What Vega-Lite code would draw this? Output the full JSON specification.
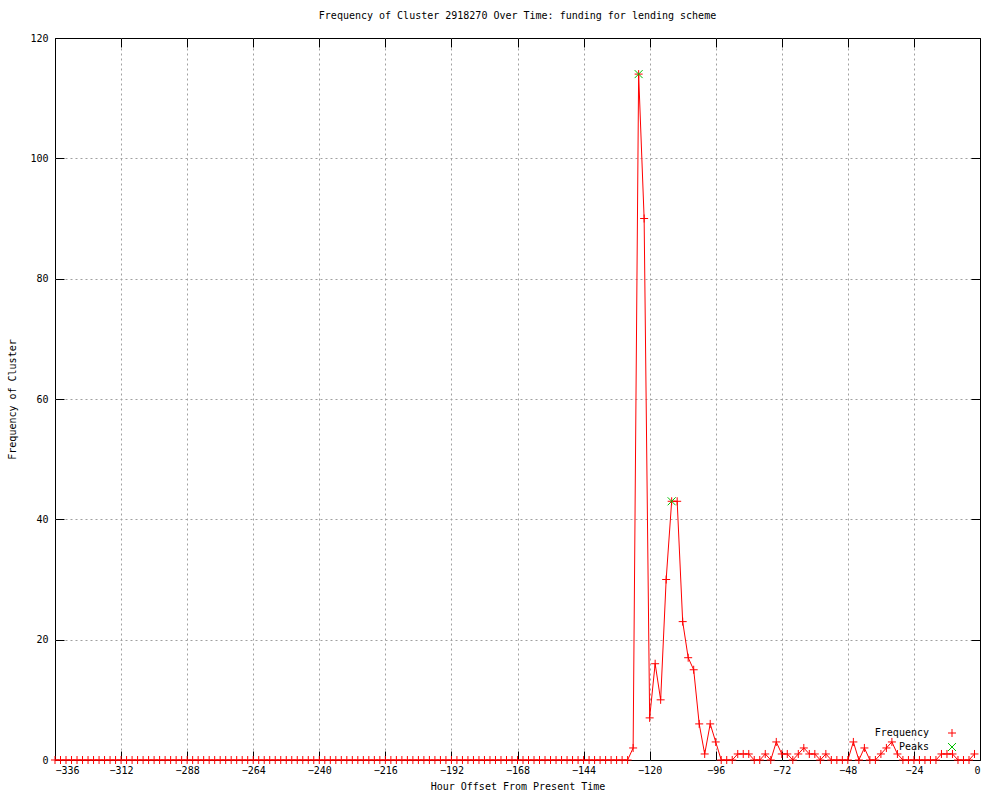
{
  "$schema": "https://vega.github.io/schema/vega-lite/v6.json",
  "width": 925,
  "height": 722,
  "autosize": {"type": "none"},
  "padding": {"left": 55, "top": 38, "right": 20, "bottom": 40},
  "background": "white",
  "title": {"text": "Frequency of Cluster 2918270 Over Time: funding for lending scheme", "font": "DejaVu Sans Mono", "fontSize": 10, "fontWeight": "normal", "color": "black", "anchor": "middle", "offset": 12},
  "config": {
    "view": {"stroke": "black", "strokeWidth": 1},
    "axis": {"labelFont": "DejaVu Sans Mono", "labelFontSize": 10, "labelColor": "black", "titleFont": "DejaVu Sans Mono", "titleFontSize": 10, "titleFontWeight": "normal", "titleColor": "black", "domain": false, "tickColor": "black", "gridColor": "#a0a0a0", "gridDash": [2, 3], "gridWidth": 1},
    "legend": {"labelFont": "DejaVu Sans Mono", "labelFontSize": 10, "labelColor": "black"}
  },
  "datasets": {
    "freq": [
      {"h": -336, "f": 0}, {"h": -334, "f": 0}, {"h": -332, "f": 0}, {"h": -330, "f": 0}, {"h": -328, "f": 0}, {"h": -326, "f": 0}, {"h": -324, "f": 0}, {"h": -322, "f": 0}, {"h": -320, "f": 0}, {"h": -318, "f": 0}, {"h": -316, "f": 0}, {"h": -314, "f": 0},
      {"h": -312, "f": 0}, {"h": -310, "f": 0}, {"h": -308, "f": 0}, {"h": -306, "f": 0}, {"h": -304, "f": 0}, {"h": -302, "f": 0}, {"h": -300, "f": 0}, {"h": -298, "f": 0}, {"h": -296, "f": 0}, {"h": -294, "f": 0}, {"h": -292, "f": 0}, {"h": -290, "f": 0},
      {"h": -288, "f": 0}, {"h": -286, "f": 0}, {"h": -284, "f": 0}, {"h": -282, "f": 0}, {"h": -280, "f": 0}, {"h": -278, "f": 0}, {"h": -276, "f": 0}, {"h": -274, "f": 0}, {"h": -272, "f": 0}, {"h": -270, "f": 0}, {"h": -268, "f": 0}, {"h": -266, "f": 0},
      {"h": -264, "f": 0}, {"h": -262, "f": 0}, {"h": -260, "f": 0}, {"h": -258, "f": 0}, {"h": -256, "f": 0}, {"h": -254, "f": 0}, {"h": -252, "f": 0}, {"h": -250, "f": 0}, {"h": -248, "f": 0}, {"h": -246, "f": 0}, {"h": -244, "f": 0}, {"h": -242, "f": 0},
      {"h": -240, "f": 0}, {"h": -238, "f": 0}, {"h": -236, "f": 0}, {"h": -234, "f": 0}, {"h": -232, "f": 0}, {"h": -230, "f": 0}, {"h": -228, "f": 0}, {"h": -226, "f": 0}, {"h": -224, "f": 0}, {"h": -222, "f": 0}, {"h": -220, "f": 0}, {"h": -218, "f": 0},
      {"h": -216, "f": 0}, {"h": -214, "f": 0}, {"h": -212, "f": 0}, {"h": -210, "f": 0}, {"h": -208, "f": 0}, {"h": -206, "f": 0}, {"h": -204, "f": 0}, {"h": -202, "f": 0}, {"h": -200, "f": 0}, {"h": -198, "f": 0}, {"h": -196, "f": 0}, {"h": -194, "f": 0},
      {"h": -192, "f": 0}, {"h": -190, "f": 0}, {"h": -188, "f": 0}, {"h": -186, "f": 0}, {"h": -184, "f": 0}, {"h": -182, "f": 0}, {"h": -180, "f": 0}, {"h": -178, "f": 0}, {"h": -176, "f": 0}, {"h": -174, "f": 0}, {"h": -172, "f": 0}, {"h": -170, "f": 0},
      {"h": -168, "f": 0}, {"h": -166, "f": 0}, {"h": -164, "f": 0}, {"h": -162, "f": 0}, {"h": -160, "f": 0}, {"h": -158, "f": 0}, {"h": -156, "f": 0}, {"h": -154, "f": 0}, {"h": -152, "f": 0}, {"h": -150, "f": 0}, {"h": -148, "f": 0}, {"h": -146, "f": 0},
      {"h": -144, "f": 0}, {"h": -142, "f": 0}, {"h": -140, "f": 0}, {"h": -138, "f": 0}, {"h": -136, "f": 0}, {"h": -134, "f": 0}, {"h": -132, "f": 0}, {"h": -130, "f": 0}, {"h": -128, "f": 0}, {"h": -126, "f": 2}, {"h": -124, "f": 114}, {"h": -122, "f": 90},
      {"h": -120, "f": 7}, {"h": -118, "f": 16}, {"h": -116, "f": 10}, {"h": -114, "f": 30}, {"h": -112, "f": 43}, {"h": -110, "f": 43}, {"h": -108, "f": 23}, {"h": -106, "f": 17}, {"h": -104, "f": 15}, {"h": -102, "f": 6}, {"h": -100, "f": 1}, {"h": -98, "f": 6},
      {"h": -96, "f": 3}, {"h": -94, "f": 0}, {"h": -92, "f": 0}, {"h": -90, "f": 0}, {"h": -88, "f": 1}, {"h": -86, "f": 1}, {"h": -84, "f": 1}, {"h": -82, "f": 0}, {"h": -80, "f": 0}, {"h": -78, "f": 1}, {"h": -76, "f": 0}, {"h": -74, "f": 3},
      {"h": -72, "f": 1}, {"h": -70, "f": 1}, {"h": -68, "f": 0}, {"h": -66, "f": 1}, {"h": -64, "f": 2}, {"h": -62, "f": 1}, {"h": -60, "f": 1}, {"h": -58, "f": 0}, {"h": -56, "f": 1}, {"h": -54, "f": 0}, {"h": -52, "f": 0}, {"h": -50, "f": 0},
      {"h": -48, "f": 0}, {"h": -46, "f": 3}, {"h": -44, "f": 0}, {"h": -42, "f": 2}, {"h": -40, "f": 0}, {"h": -38, "f": 0}, {"h": -36, "f": 1}, {"h": -34, "f": 2}, {"h": -32, "f": 3}, {"h": -30, "f": 1}, {"h": -28, "f": 0}, {"h": -26, "f": 0},
      {"h": -24, "f": 0}, {"h": -22, "f": 0}, {"h": -20, "f": 0}, {"h": -18, "f": 0}, {"h": -16, "f": 0}, {"h": -14, "f": 1}, {"h": -12, "f": 1}, {"h": -10, "f": 1}, {"h": -8, "f": 0}, {"h": -6, "f": 0}, {"h": -4, "f": 0}, {"h": -2, "f": 1}
    ],
    "peaks": [
      {"h": -124, "f": 114},
      {"h": -112, "f": 43}
    ]
  },
  "layer": [
    {
      "data": {"name": "freq"},
      "mark": {"type": "line", "color": "#ff0000", "strokeWidth": 1, "interpolate": "linear"},
      "encoding": {
        "x": {"field": "h", "type": "quantitative", "scale": {"domain": [-336, 0], "nice": false, "zero": false},
              "axis": {"title": "Hour Offset From Present Time", "values": [-336, -312, -288, -264, -240, -216, -192, -168, -144, -120, -96, -72, -48, -24, 0], "tickSize": -9, "labelPadding": 14, "titlePadding": 6, "grid": true,
                       "gridOpacity": {"condition": {"test": "datum.value === -336 || datum.value === 0", "value": 0}, "value": 1}}},
        "y": {"field": "f", "type": "quantitative", "scale": {"domain": [0, 120], "nice": false},
              "axis": {"title": "Frequency of Cluster", "values": [0, 20, 40, 60, 80, 100, 120], "tickSize": -9, "labelPadding": 16, "titlePadding": 12, "grid": true,
                       "gridOpacity": {"condition": {"test": "datum.value === 0 || datum.value === 120", "value": 0}, "value": 1}}}
      }
    },
    {
      "data": {"name": "freq"},
      "transform": [{"calculate": "'Frequency'", "as": "series"}],
      "mark": {"type": "point", "filled": false, "strokeWidth": 1, "opacity": 1},
      "encoding": {
        "x": {"field": "h", "type": "quantitative", "axis": null},
        "y": {"field": "f", "type": "quantitative", "axis": null},
        "color": {"field": "series", "type": "nominal", "scale": {"domain": ["Frequency", "Peaks"], "range": ["#ff0000", "#00c000"]},
                  "legend": {"title": null, "orient": "none", "legendX": 892, "legendY": 690, "rowPadding": 2, "symbolStrokeWidth": 1, "symbolSize": 64, "labelAlign": "right", "labelOffset": -28, "padding": 0}},
        "shape": {"field": "series", "type": "nominal", "scale": {"domain": ["Frequency", "Peaks"], "range": ["M-1,0L1,0M0,-1L0,1", "M-1,-1L1,1M-1,1L1,-1"]}, "legend": null},
        "size": {"value": 64}
      }
    },
    {
      "data": {"name": "peaks"},
      "transform": [{"calculate": "'Peaks'", "as": "series"}],
      "mark": {"type": "point", "filled": false, "strokeWidth": 1, "opacity": 1},
      "encoding": {
        "x": {"field": "h", "type": "quantitative", "axis": {"orient": "top", "labels": false, "title": null, "values": [-336, -312, -288, -264, -240, -216, -192, -168, -144, -120, -96, -72, -48, -24, 0], "tickSize": -9, "grid": false}},
        "y": {"field": "f", "type": "quantitative", "axis": {"orient": "right", "labels": false, "title": null, "values": [0, 20, 40, 60, 80, 100, 120], "tickSize": -9, "grid": false}},
        "color": {"field": "series", "type": "nominal"},
        "shape": {"field": "series", "type": "nominal"},
        "size": {"value": 64}
      }
    }
  ],
  "resolve": {"axis": {"x": "independent", "y": "independent"}}
}
